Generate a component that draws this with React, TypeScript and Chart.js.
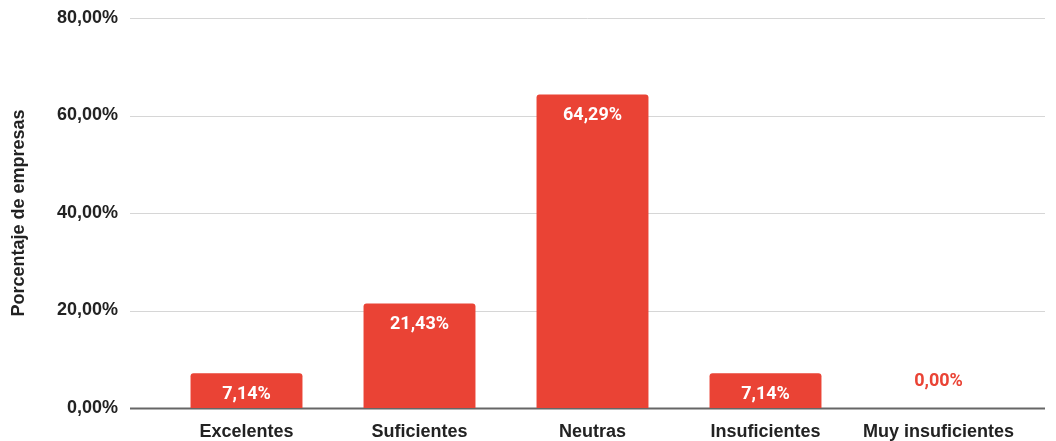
import React, { useEffect, useRef } from "react";
import { Chart, registerables } from "chart.js";

Chart.register(...registerables);

const categories = ["Excelentes", "Suficientes", "Neutras", "Insuficientes", "Muy insuficientes"];
const values = [7.14, 21.43, 64.29, 7.14, 0.0];
const yTicks = [0, 20, 40, 60, 80];
const yTitle = "Porcentaje de empresas";

const RED = "#EA4335";
const AXIS_FONT = "'Liberation Sans', Arial, Helvetica, sans-serif";
const LABEL_FONT = "Roboto, 'Liberation Sans', Arial, sans-serif";

const fmt = (v: number) => v.toFixed(2).replace(".", ",") + "%";

const gridPlugin = {
  id: "extGrid",
  beforeDatasetsDraw(chart: any) {
    const { ctx, chartArea, scales } = chart;
    const y = scales.y;
    const left = chartArea.left - 30;
    const right = chartArea.right + 20;
    ctx.save();
    yTicks.forEach((t) => {
      const py = Math.round(y.getPixelForValue(t)) + 0.5;
      ctx.beginPath();
      if (t === 0) {
        ctx.strokeStyle = "#666666";
        ctx.lineWidth = 2;
      } else {
        ctx.strokeStyle = "#d6d6d6";
        ctx.lineWidth = 1;
      }
      ctx.moveTo(left, py);
      ctx.lineTo(right, py);
      ctx.stroke();
    });
    ctx.restore();
  },
  afterDatasetsDraw(chart: any) {
    const { ctx, scales } = chart;
    const meta = chart.getDatasetMeta(0);
    ctx.save();
    ctx.font = `bold 18px ${LABEL_FONT}`;
    ctx.textAlign = "center";
    ctx.textBaseline = "middle";
    meta.data.forEach((bar: any, i: number) => {
      const v = values[i];
      if (v > 3) {
        ctx.fillStyle = "#ffffff";
        ctx.fillText(fmt(v), bar.x, bar.y + 21);
      } else {
        ctx.fillStyle = RED;
        ctx.fillText(fmt(v), bar.x, scales.y.getPixelForValue(0) - 27);
      }
    });
    ctx.restore();
  },
};

export default function App() {
  const ref = useRef<HTMLCanvasElement>(null);
  useEffect(() => {
    if (!ref.current) return;
    const chart = new Chart(ref.current, {
      type: "bar",
      data: {
        labels: categories,
        datasets: [
          {
            data: values,
            backgroundColor: RED,
            borderRadius: { topLeft: 3, topRight: 3, bottomLeft: 0, bottomRight: 0 },
            borderSkipped: "bottom",
            barPercentage: 0.647,
            categoryPercentage: 1,
          },
        ],
      },
      options: {
        animation: false,
        responsive: true,
        maintainAspectRatio: false,
        layout: { padding: { top: 18, right: 31, left: 0, bottom: 0 } },
        plugins: { legend: { display: false }, tooltip: { enabled: false } },
        scales: {
          x: {
            grid: { display: false, drawTicks: false },
            border: { display: false },
            ticks: { color: "#222", font: { family: AXIS_FONT, size: 18, weight: "bold" }, padding: 13, maxRotation: 0 },
            afterFit: (s: any) => {
              s.height = 33;
            },
          },
          y: {
            min: 0,
            max: 80,
            grid: { display: false, drawTicks: false },
            border: { display: false },
            afterBuildTicks: (s: any) => {
              s.ticks = yTicks.map((v) => ({ value: v }));
            },
            ticks: {
              color: "#222",
              font: { family: AXIS_FONT, size: 18, weight: "bold" },
              padding: 42,
              callback: (v: any) => fmt(Number(v)),
            },
            title: {
              display: true,
              text: yTitle,
              color: "#222",
              font: { family: AXIS_FONT, size: 18, weight: "bold" },
              padding: { top: 8, bottom: 0 },
            },
            afterFit: (s: any) => {
              s.width = 160;
              s.paddingTop = 0;
              s.paddingBottom = 0;
            },
          },
        },
      },
      plugins: [gridPlugin],
    } as any);
    return () => chart.destroy();
  }, []);
  return (
    <div style={{ position: "fixed", left: 0, top: 0, width: 1056, height: 441, background: "#fff" }}>
      <canvas ref={ref} />
    </div>
  );
}
